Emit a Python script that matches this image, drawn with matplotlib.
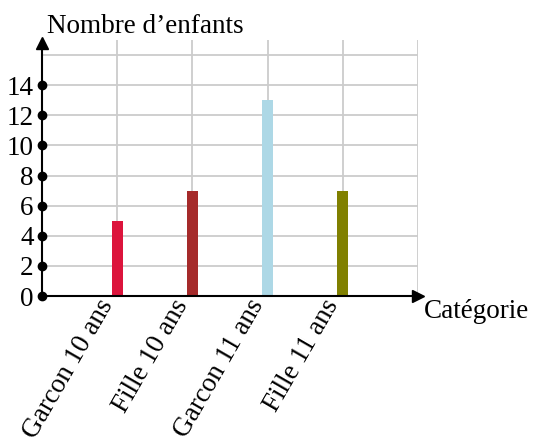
import numpy as np
from matplotlib import pyplot as plt
from matplotlib import transforms

categories = ["Garcon 10 ans", "Fille 10 ans", "Garcon 11 ans", "Fille 11 ans"]
counts = [5, 7, 13, 7]
bar_colors = ["#dc143c", "#a52a2a", "#add8e6", "#808000"]
y_ticks = [0, 2, 4, 6, 8, 10, 12, 14]

plt.rcParams['font.family'] = ['Liberation Serif', 'DejaVu Serif']
fs = 19.5

fig = plt.figure(figsize=(5.33, 4.45), dpi=100)
ax = fig.add_axes([42 / 533, 149 / 445, 376 / 533, 256 / 445])

x = np.arange(1, len(categories) + 1)

# grid
for gx in range(1, 6):
    ax.axvline(gx, color="#cccccc", lw=1.3, zorder=0)
for gy in range(2, 17, 2):
    ax.axhline(gy, color="#cccccc", lw=1.3, zorder=0)

ax.bar(x, counts, width=0.15, color=bar_colors, zorder=2)

ax.set_xlim(0, 5)
ax.set_ylim(0, 17)
for s in ax.spines.values():
    s.set_visible(False)

# axes with arrows
ax.plot([0, 5], [0, 0], color="black", lw=1.5, clip_on=False, zorder=3)
ax.plot([0, 0], [0, 17], color="black", lw=1.5, clip_on=False, zorder=3)
ax.plot(5, 0, marker=">", color="black", ms=9, clip_on=False, zorder=4)
ax.plot(0, 16.8, marker="^", color="black", ms=9, clip_on=False, zorder=4)
ax.plot(np.zeros(len(y_ticks)), y_ticks, "o", color="black", ms=6, clip_on=False, zorder=4)

ax.set_yticks(y_ticks)
ax.set_yticklabels([str(v) for v in y_ticks], fontsize=fs)
ax.tick_params(axis="y", length=0, pad=6)
ax.set_xticks(x)
ax.set_xticklabels(categories, fontsize=fs, rotation=60, ha="right", va="center",
                   rotation_mode="anchor")
ax.tick_params(axis="x", length=0, pad=6)
offset = transforms.ScaledTranslation(-7 / 72, 2 / 72, fig.dpi_scale_trans)
for lbl in ax.get_xticklabels():
    lbl.set_transform(lbl.get_transform() + offset)

fig.text(47 / 533, 1 - 33 / 445, "Nombre d\u2019enfants", fontsize=fs, ha="left", va="baseline")
fig.text(424 / 533, 1 - 312 / 445, "Catégorie", fontsize=fs, ha="left", va="center")

plt.savefig("out.png", dpi=100)
